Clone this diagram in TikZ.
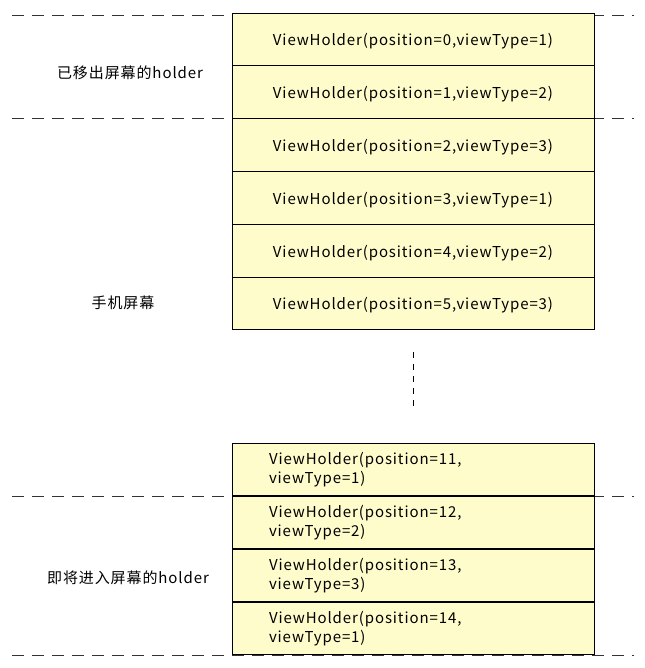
\documentclass[tikz,border=0pt]{standalone}
\usepackage{fontspec}
\setmainfont[LetterSpace=6]{Noto Sans CJK SC}
\begin{document}
\begin{tikzpicture}[
    x=1pt, y=-1pt,
    holder/.style={rectangle, draw=black, line width=0.9pt, fill=yellow!20, minimum width=362pt, minimum height=52.8pt, inner sep=0pt, font=\fontsize{15}{19}\selectfont},
    oneline/.style={holder, text height=15pt, text depth=2pt},
    twoline/.style={holder, text width=288pt, align=left},
    divider/.style={dash pattern=on 12pt off 8pt, line width=0.9pt, black!80},
    label/.style={font=\fontsize{15}{18}\selectfont}
]
\useasboundingbox (0,0) rectangle (644,668);

% Screen borders
\coordinate (l1) at (12,15);   \coordinate (r1) at (634,15);
\coordinate (l2) at (12,118);  \coordinate (r2) at (634,118);
\coordinate (l3) at (12,496);  \coordinate (r3) at (634,496);
\coordinate (l4) at (12,655);  \coordinate (r4) at (634,655);
\draw[divider] (l1) -- (r1);
\draw[divider] (l2) -- (r2);
\draw[divider] (l3) -- (r3);
\draw[divider] (l4) -- (r4);

% Holders on and above the screen
\node[oneline] (h0) at (413,39.4) {ViewHolder(position=0,viewType=1)};
\node[oneline] (h1) at (413,92.2) {ViewHolder(position=1,viewType=2)};
\node[oneline] (h2) at (413,145) {ViewHolder(position=2,viewType=3)};
\node[oneline] (h3) at (413,197.8) {ViewHolder(position=3,viewType=1)};
\node[oneline] (h4) at (413,250.6) {ViewHolder(position=4,viewType=2)};
\node[oneline] (h5) at (413,303.4) {ViewHolder(position=5,viewType=3)};

% Gap
\coordinate (gtop) at (413,352);
\coordinate (gbot) at (413,411);
\draw[dash pattern=on 6pt off 6pt, line width=0.9pt] (gtop) -- (gbot);

% Holders below the screen
\node[twoline] (h11) at (413,469.5) {ViewHolder(position=11,\\viewType=1)};
\node[twoline] (h12) at (413,522.5) {ViewHolder(position=12,\\viewType=2)};
\node[twoline] (h13) at (413,575.5) {ViewHolder(position=13,\\viewType=3)};
\node[twoline] (h14) at (413,628.5) {ViewHolder(position=14,\\viewType=1)};

% Labels
\node[label] (gone) at (130,73) {已移出屏幕的holder};
\node[label] (screen) at (123,303) {手机屏幕};
\node[label] (coming) at (128,578) {即将进入屏幕的holder};

\end{tikzpicture}
\end{document}
